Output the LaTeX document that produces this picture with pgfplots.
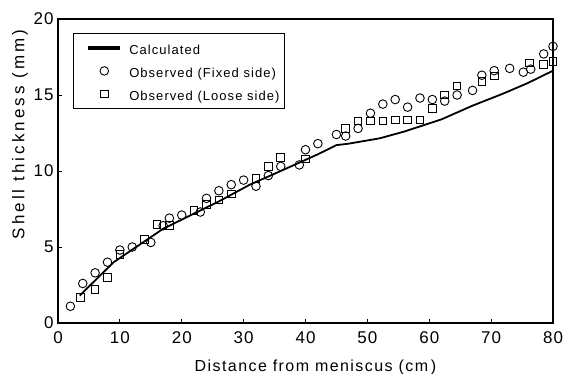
\documentclass[border=0pt]{standalone}
\usepackage{fontspec}
\setmainfont{Liberation Sans}[LetterSpace=6]
\newfontfamily\xlabfont{Liberation Sans}[LetterSpace=9]
\newfontfamily\ylabfont{Liberation Sans}[LetterSpace=18]
\newfontfamily\legfont{Liberation Sans}[LetterSpace=8]
\usepackage{pgfplots}
\pgfplotsset{compat=1.18}

% legend samples: a short thick bar, or a single mark
\pgfplotsset{
  lineleg/.style={legend image code/.code={%
    \path[draw=none,fill=none] (0pt,0pt) -- (51pt,0pt);
    \fill[black] (13pt,-0.9pt) rectangle (43pt,0.9pt);}},
  markleg/.style={legend image code/.code={%
    \path[draw=none,fill=none] (0pt,0pt) -- (51pt,0pt);
    \draw[##1] plot coordinates {(28pt,0pt)};}},
}

% Calculated shell thickness
\pgfplotstableread{
x y
3.5 1.8
9 4.0
13 5.1
17 6.2
21 7.0
26 8.0
31 9.1
36 10.0
42 11.1
45 11.7
47 11.8
52 12.15
56 12.6
62 13.4
67 14.3
72 15.1
76 15.8
80 16.6
}\calc

% Observed, fixed side
\pgfplotstableread{
x y
2 1.1
4 2.6
6 3.3
8 4.0
10 4.8
12 5.0
15 5.3
17 6.4
18 6.9
20 7.1
23 7.3
24 8.2
26 8.7
28 9.1
30 9.4
32 9.0
34 9.7
36 10.3
39 10.4
40 11.4
42 11.8
45 12.4
46.5 12.3
48.5 12.8
50.5 13.8
52.5 14.4
54.5 14.7
56.5 14.2
58.5 14.8
60.5 14.7
62.5 14.6
64.5 15.0
67 15.3
68.5 16.3
70.5 16.6
73 16.75
75.2 16.5
76.4 16.7
78.5 17.7
80 18.2
}\fixed

% Observed, loose side
\pgfplotstableread{
x y
3.6 1.7
6 2.2
8 3.0
10 4.5
14 5.5
16 6.5
18 6.4
22 7.4
24 7.8
26 8.1
28 8.5
32 9.5
34 10.3
36 10.9
40 10.8
46.5 12.8
48.5 13.3
50.5 13.3
52.5 13.3
54.5 13.35
56.5 13.35
58.5 13.35
60.5 14.1
62.5 15.0
64.5 15.6
68.5 15.9
70.5 16.25
76.2 17.1
78.5 17.0
80 17.2
}\loose

\begin{document}
\begin{tikzpicture}
\useasboundingbox (-58pt,-51pt) rectangle (505pt,323pt);
\begin{axis}[
  at={(0pt,0pt)}, anchor=south west,
  scale only axis, width=495pt, height=304pt,
  xmin=0, xmax=80, ymin=0, ymax=20,
  xtick={0,10,...,80}, ytick={0,5,...,20},
  tick pos=left, tick align=inside,
  major tick length=4pt,
  axis line style={line width=1.1pt},
  tick style={line width=0.8pt, black},
  /pgf/number format/assume math mode=true,
  ticklabel style={font=\fontsize{17}{19}\selectfont},
  xticklabel style={anchor=base, yshift=-21pt},
  yticklabel style={anchor=east, xshift=-1pt},
  xlabel={Distance from meniscus (cm\,)},
  ylabel={Shell thickness (mm\,)},
  xlabel style={font=\xlabfont\fontsize{16}{18}\selectfont,
    at={(axis description cs:0.52,-0.161)}, anchor=base},
  ylabel style={font=\ylabfont\fontsize{17}{19}\selectfont,
    at={(axis description cs:-0.077,0.62)}, anchor=center},
  legend style={at={(axis description cs:0.03,0.954)}, anchor=north west,
    draw=black, line width=0.9pt, font=\legfont\fontsize{13}{15}\selectfont,
    inner xsep=3pt, inner ysep=5.5pt, row sep=5pt,
    nodes={text height=14pt, text depth=0pt}},
  legend cell align=left,
]
\addplot[black, line width=1.8pt, no marks, lineleg] table {\calc};
\addlegendentry{Calculated}
\addplot[only marks, mark=o, mark size=4.3pt, mark options={line width=0.9pt, fill=white}, markleg] table {\fixed};
\addlegendentry{Observed (Fixed side)}
\addplot[only marks, mark=square, mark size=3.8pt, mark options={line width=0.9pt, fill=white}, markleg] table {\loose};
\addlegendentry{Observed (Loose side)}
\end{axis}
\end{tikzpicture}
\end{document}
